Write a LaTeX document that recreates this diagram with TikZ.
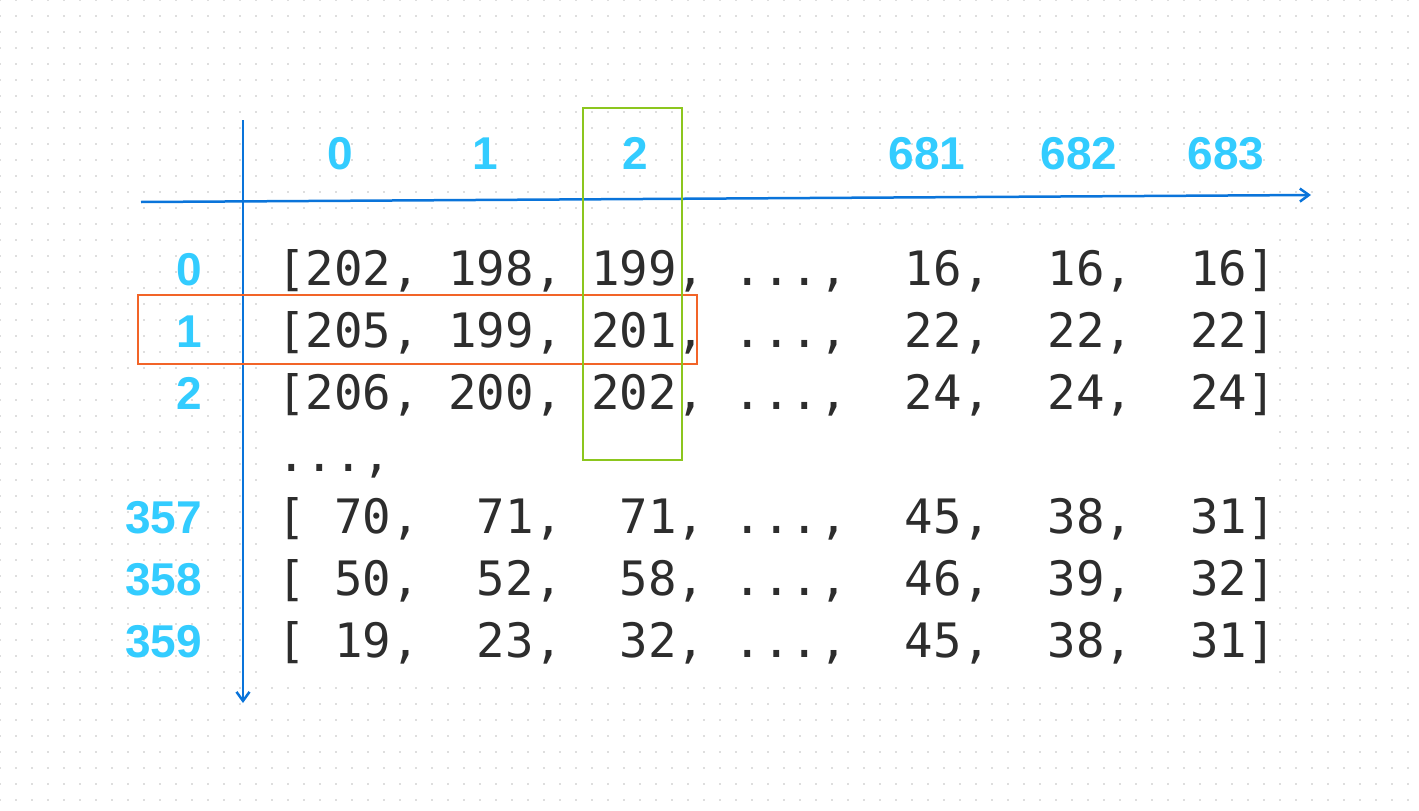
\documentclass[tikz,border=0pt]{standalone}
\usepackage{fontspec}
\setmainfont{Liberation Sans}
\newfontfamily\codefont{DejaVu Sans Mono}
\usepackage{xcolor}
\usetikzlibrary{arrows.meta}
\definecolor{axisblue}{RGB}{10,116,218}
\definecolor{labelcyan}{RGB}{51,204,255}
\definecolor{colgreen}{RGB}{140,198,30}
\definecolor{roworange}{RGB}{242,100,40}
\definecolor{griddot}{RGB}{222,222,222}
\definecolor{codegray}{RGB}{45,45,45}

\begin{document}
\begin{tikzpicture}[x=1pt,y=-1pt,
  idx/.style={text=labelcyan,font=\fontsize{46}{46}\selectfont\bfseries,inner sep=0pt},
  code/.style={text=codegray,font=\codefont\fontsize{47.4}{48}\selectfont,inner sep=0pt,anchor=base west},
  axis/.style={axisblue,line width=2.5pt,-{Straight Barb[length=9pt,width=13pt]}},
  hl/.style={line width=2pt}]
\useasboundingbox (0,0) rectangle (1419,811);
%\draw[help lines](0,0)grid(1419,811);
% dotted paper
\foreach \i in {0,...,88}
  \foreach \j in {0,...,50}
    \fill[griddot] (\i*16-1,\j*16-1) rectangle ++(2,2);
\fill[white] (264,232) rectangle (1276,680);

% axes
\coordinate (xs) at (141,202);
\coordinate (xe) at (1311,195);
\coordinate (ys) at (243,120);
\coordinate (ye) at (243,703);
\draw[axis] (xs)--(xe);
\draw[axis] (ys)--(ye);

% column indices
\node[idx,anchor=base] (cl0) at (340,169) {0};
\node[idx,anchor=base] (cl1) at (485,169) {1};
\node[idx,anchor=base] (cl2) at (635,169) {2};
\node[idx,anchor=base] (cl681) at (927,169) {681};
\node[idx,anchor=base] (cl682) at (1079,169) {682};
\node[idx,anchor=base] (cl683) at (1226,169) {683};

% row indices
\node[idx,anchor=base east] (rl0) at (202,285) {0};
\node[idx,anchor=base east] (rl1) at (202,347) {1};
\node[idx,anchor=base east] (rl2) at (202,409) {2};
\node[idx,anchor=base east] (rl357) at (202,533) {357};
\node[idx,anchor=base east] (rl358) at (202,595) {358};
\node[idx,anchor=base east] (rl359) at (202,657) {359};

% array rows
\node[code] (r0) at (277,285) {[202, 198, 199, ...,~ 16,~ 16,~ 16]};
\node[code] (r1) at (277,347) {[205, 199, 201, ...,~ 22,~ 22,~ 22]};
\node[code] (r2) at (277,409) {[206, 200, 202, ...,~ 24,~ 24,~ 24]};
\node[code] (r3) at (277,471) {...,};
\node[code] (r4) at (277,533) {[~70,~ 71,~ 71, ...,~ 45,~ 38,~ 31]};
\node[code] (r5) at (277,595) {[~50,~ 52,~ 58, ...,~ 46,~ 39,~ 32]};
\node[code] (r6) at (277,657) {[~19,~ 23,~ 32, ...,~ 45,~ 38,~ 31]};

% row and column marks
\draw[roworange,hl] (138,295) rectangle (697,364);
\draw[colgreen,hl] (583,108) rectangle (682,460);
\end{tikzpicture}
\end{document}
